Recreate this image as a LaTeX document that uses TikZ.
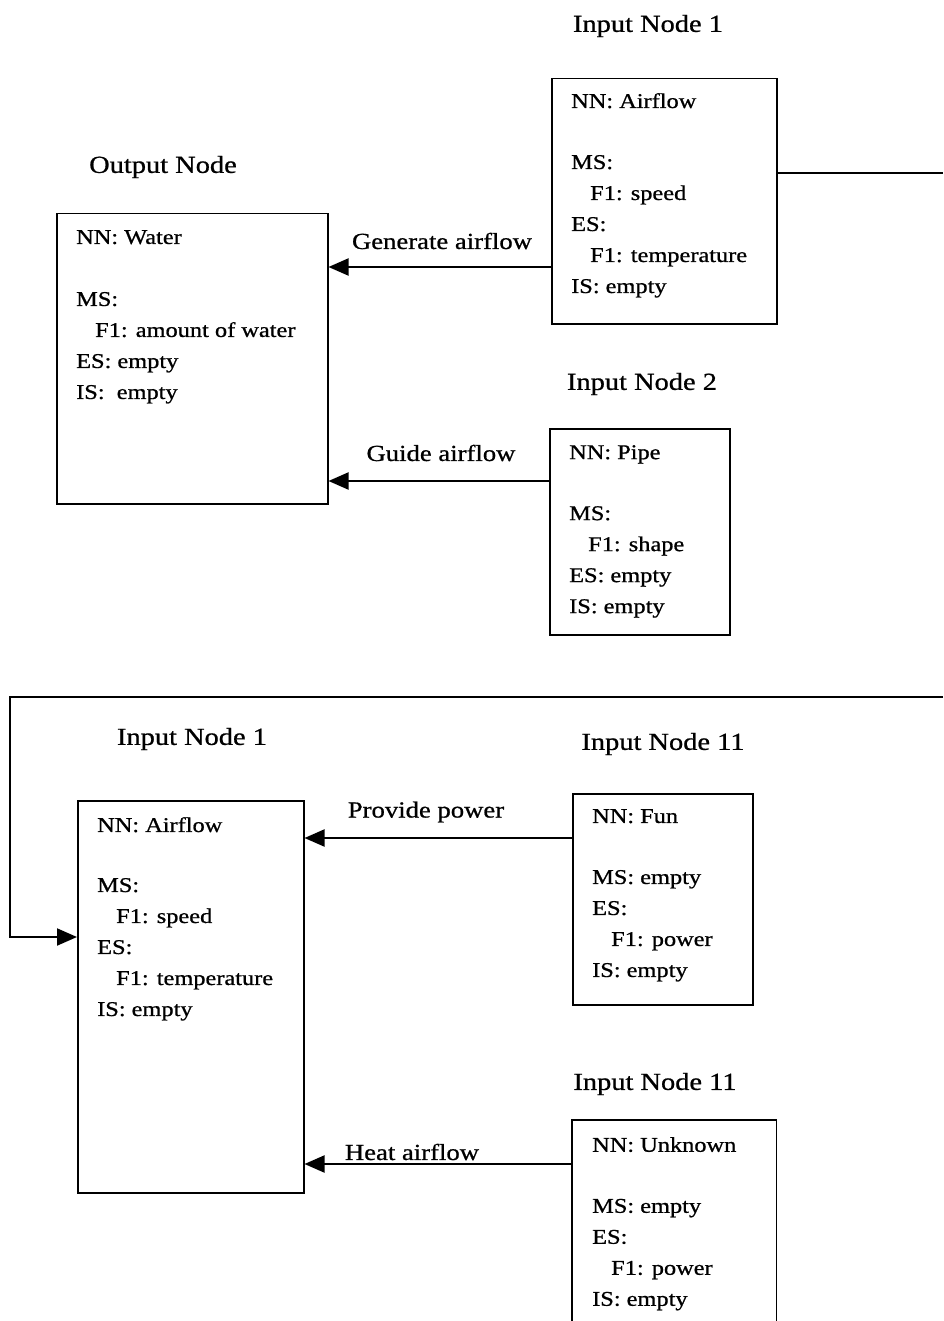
\documentclass[tikz,border=0pt]{standalone}
\usepackage{fontspec}
\setmainfont{Liberation Serif}[FakeStretch=1.16,FakeBold=0.8]
\usetikzlibrary{arrows.meta}
\begin{document}
\begin{tikzpicture}[x=1pt,y=-1pt,
  boxline/.style={line width=1.5pt},
  box/.style={draw,boxline,inner sep=0pt,anchor=north west},
  body/.style={anchor=north west,inner sep=0pt,align=left,font=\fontsize{21}{31}\selectfont},
  ttl/.style={inner sep=0pt,font=\fontsize{24.5}{28}\selectfont},
  lbl/.style={inner sep=0pt,font=\fontsize{23}{27}\selectfont},
  conn/.style={line width=2pt},
  arr/.style={conn,-{Triangle[length=20pt,width=17pt]}}]
\useasboundingbox[fill=white] (0,0) rectangle (943,1321);
\newcommand{\ind}{\hspace*{19pt}}
% ---------- top part ----------
\node[ttl] (t1) at (648,26) {Input Node 1};
\node[box,minimum width=225pt,minimum height=245pt] (in1) at (551,78) {};
\node[body] (x1) at (571,93) {NN: Airflow\\[30pt]MS:\\\ind F1: speed\\ES:\\\ind F1: temperature\\IS: empty};

\node[ttl] (t2) at (163,167) {Output Node};
\node[box,minimum width=271pt,minimum height=290pt] (out) at (56,213) {};
\node[body] (x2) at (76,230) {NN: Water\\[31pt]MS:\\\ind F1: amount of water\\ES: empty\\IS:\ \ empty};

\node[ttl] (t3) at (642,384) {Input Node 2};
\node[box,minimum width=180pt,minimum height=206pt] (in2) at (549,428) {};
\node[body] (x3) at (569,445) {NN: Pipe\\[30pt]MS:\\\ind F1: shape\\ES: empty\\IS: empty};

\node[lbl] (l1) at (442,241) {Generate airflow};
\node[lbl] (l2) at (441,453) {Guide airflow};
\draw[arr] (in1.west |- 0,267) -- (out.east |- 0,267);
\draw[arr] (in2.west |- 0,481) -- (out.east |- 0,481);

\coordinate (e1) at (943,173);
\draw[conn] (in1.east |- e1) -- (e1);

% ---------- bottom part ----------
\node[ttl] (t4) at (192,739) {Input Node 1};
\node[box,minimum width=226pt,minimum height=392pt] (in1b) at (77,800) {};
\node[body] (x4) at (97,817) {NN: Airflow\\[29pt]MS:\\\ind F1: speed\\ES:\\\ind F1: temperature\\IS: empty};

\node[ttl] (t5) at (663,744) {Input Node 11};
\node[box,minimum width=180pt,minimum height=211pt] (fun) at (572,793) {};
\node[body] (x5) at (592,809) {NN: Fun\\[30pt]MS: empty\\ES:\\\ind F1: power\\IS: empty};

\node[ttl] (t6) at (655,1084) {Input Node 11};
\node[anchor=north west,inner sep=0pt,minimum width=204pt,minimum height=260pt] (unk) at (572,1120) {};
\draw[boxline] (unk.south west) -- (unk.north west) -- (unk.north east) -- (unk.south east);
\node[body] (x6) at (592,1137) {NN: Unknown\\[30pt]MS: empty\\ES:\\\ind F1: power\\IS: empty};

\node[lbl] (l3) at (426,812) {Provide power};
\node[lbl] (l4) at (412,1152) {Heat airflow};
\draw[arr] (fun.west |- 0,838) -- (in1b.east |- 0,838);
\draw[arr] (unk.west |- 0,1164) -- (in1b.east |- 0,1164);

\coordinate (e2) at (943,697);
\coordinate (c2) at (10,697);
\draw[arr] (e2) -- (c2) |- (in1b.west |- 0,937);
\end{tikzpicture}
\end{document}
